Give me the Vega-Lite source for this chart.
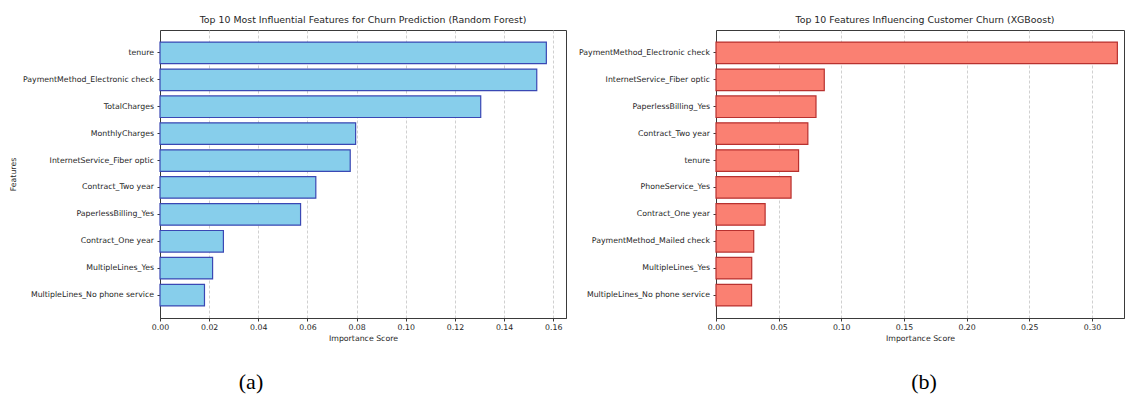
{
  "$schema": "https://vega.github.io/schema/vega-lite/v6.json",
  "background": "white",
  "padding": {"left": 8, "top": 14, "right": 0, "bottom": 0},
  "config": {
    "font": "DejaVu Sans",
    "view": {"stroke": "#3a3a3a", "strokeWidth": 1},
    "axis": {
      "labelFont": "DejaVu Sans",
      "labelFontSize": 7.8,
      "labelColor": "#262626",
      "titleFont": "DejaVu Sans",
      "titleFontSize": 7.8,
      "titleFontWeight": "normal",
      "titleColor": "#262626",
      "tickColor": "#3a3a3a",
      "tickSize": 3,
      "domainColor": "#3a3a3a",
      "domainWidth": 1
    },
    "axisX": {
      "grid": true,
      "gridDash": [3, 2],
      "gridColor": "#c4c4c4",
      "gridWidth": 0.8,
      "labelPadding": 2.5,
      "titlePadding": 3,
      "labelFlush": false
    },
    "axisY": {"grid": false, "labelPadding": 3.5, "titlePadding": 5},
    "title": {"fontSize": 9.4, "fontWeight": "normal", "color": "#262626", "offset": 5, "font": "DejaVu Sans"},
    "concat": {"spacing": 10}
  },
  "datasets": {
    "rf": [
      {"feature": "tenure", "importance": 0.1572},
      {"feature": "PaymentMethod_Electronic check", "importance": 0.1533},
      {"feature": "TotalCharges", "importance": 0.1305},
      {"feature": "MonthlyCharges", "importance": 0.0796},
      {"feature": "InternetService_Fiber optic", "importance": 0.0774},
      {"feature": "Contract_Two year", "importance": 0.0634},
      {"feature": "PaperlessBilling_Yes", "importance": 0.0572},
      {"feature": "Contract_One year", "importance": 0.0258},
      {"feature": "MultipleLines_Yes", "importance": 0.0214},
      {"feature": "MultipleLines_No phone service", "importance": 0.0181}
    ],
    "xgb": [
      {"feature": "PaymentMethod_Electronic check", "importance": 0.3203},
      {"feature": "InternetService_Fiber optic", "importance": 0.0864},
      {"feature": "PaperlessBilling_Yes", "importance": 0.0798},
      {"feature": "Contract_Two year", "importance": 0.0733},
      {"feature": "tenure", "importance": 0.0659},
      {"feature": "PhoneService_Yes", "importance": 0.0599},
      {"feature": "Contract_One year", "importance": 0.0392},
      {"feature": "PaymentMethod_Mailed check", "importance": 0.0301},
      {"feature": "MultipleLines_Yes", "importance": 0.0285},
      {"feature": "MultipleLines_No phone service", "importance": 0.0284}
    ]
  },
  "hconcat": [
    {
      "spacing": 24,
      "vconcat": [
        {
          "width": 406,
          "height": 288,
          "title": "Top 10 Most Influential Features for Churn Prediction (Random Forest)",
          "data": {"name": "rf"},
          "mark": {"type": "bar", "fill": "#87CEEB", "stroke": "#3a48b4", "strokeWidth": 1.2},
          "encoding": {
            "y": {
              "field": "feature",
              "type": "nominal",
              "sort": null,
              "title": "Features",
              "scale": {"paddingInner": 0.2, "paddingOuter": 0.45}
            },
            "x": {
              "field": "importance",
              "type": "quantitative",
              "title": "Importance Score",
              "scale": {"domain": [0, 0.1652], "nice": false},
              "axis": {"values": [0, 0.02, 0.04, 0.06, 0.08, 0.1, 0.12, 0.14, 0.16], "format": ".2f"}
            }
          }
        },
        {
          "width": 406,
          "height": 30,
          "view": {"stroke": null},
          "data": {"values": [{"caption": "(a)"}]},
          "mark": {"type": "text", "font": "Liberation Serif", "fontSize": 22, "dx": -112, "baseline": "middle", "color": "#000000"},
          "encoding": {"text": {"field": "caption", "type": "nominal"}}
        }
      ]
    },
    {
      "spacing": 24,
      "vconcat": [
        {
          "width": 408,
          "height": 288,
          "title": {"text": "Top 10 Features Influencing Customer Churn (XGBoost)", "dx": 5},
          "data": {"name": "xgb"},
          "mark": {"type": "bar", "fill": "#FA8072", "stroke": "#b8312f", "strokeWidth": 1.2},
          "encoding": {
            "y": {
              "field": "feature",
              "type": "nominal",
              "sort": null,
              "title": null,
              "scale": {"paddingInner": 0.2, "paddingOuter": 0.45}
            },
            "x": {
              "field": "importance",
              "type": "quantitative",
              "title": "Importance Score",
              "scale": {"domain": [0, 0.3256], "nice": false},
              "axis": {"values": [0, 0.05, 0.1, 0.15, 0.2, 0.25, 0.3], "format": ".2f"}
            }
          }
        },
        {
          "width": 408,
          "height": 30,
          "view": {"stroke": null},
          "data": {"values": [{"caption": "(b)"}]},
          "mark": {"type": "text", "font": "Liberation Serif", "fontSize": 22, "dx": 4, "baseline": "middle", "color": "#000000"},
          "encoding": {"text": {"field": "caption", "type": "nominal"}}
        }
      ]
    }
  ]
}
